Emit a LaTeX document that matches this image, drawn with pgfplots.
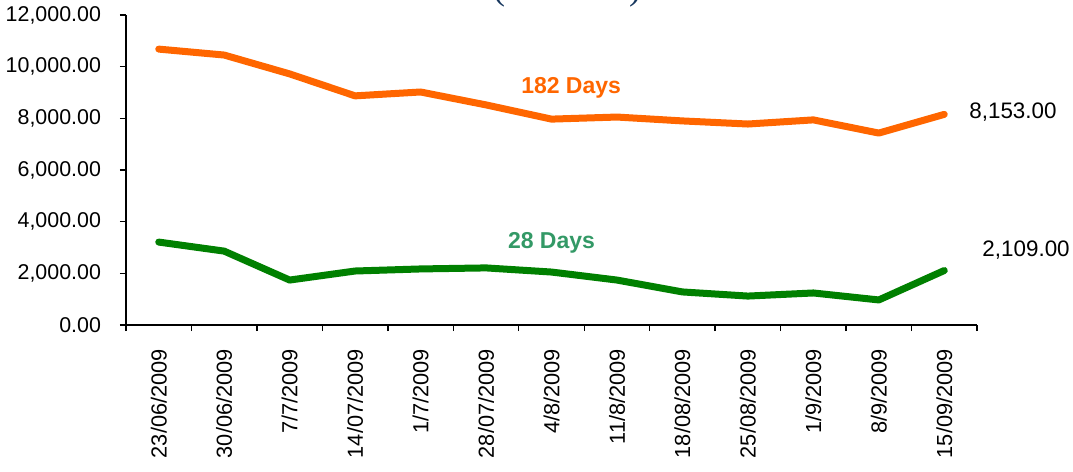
\documentclass[border=0pt]{standalone}
\usepackage{pgfplots}
\pgfplotsset{compat=1.18}
\usepackage{fontspec}
\setmainfont{Liberation Sans}
\newfontfamily\titlefont{Liberation Serif}
\definecolor{lineorange}{RGB}{255,102,0}
\definecolor{linegreen}{RGB}{0,128,0}
\definecolor{labelgreen}{RGB}{51,153,102}
\definecolor{titlenavy}{RGB}{23,55,94}

\pgfplotstableread{
idx t182 t28
0 10680 3210
1 10450 2860
2 9720 1740
3 8870 2090
4 9020 2170
5 8520 2210
6 7970 2050
7 8050 1740
8 7900 1280
9 7780 1120
10 7940 1240
11 7430 970
12 8153 2109
}\rates

\begin{document}
\begin{tikzpicture}
\begin{axis}[
    at={(0,0)}, anchor=south west,
    scale only axis,
    width=425.5pt, height=155pt,
    xmin=-0.5, xmax=12.5,
    ymin=0, ymax=12000,
    axis lines=left,
    axis line style={line width=1pt, -},
    xtick={0,...,12},
    xticklabels={23/06/2009,30/06/2009,7/7/2009,14/07/2009,1/7/2009,28/07/2009,4/8/2009,11/8/2009,18/08/2009,25/08/2009,1/9/2009,8/9/2009,15/09/2009},
    major x tick style={draw=none},
    minor xtick={-0.5,0.5,...,12.5},
    minor x tick style={line width=0.7pt, black},
    minor tick length=3pt,
    xticklabel style={rotate=90, anchor=east, font=\fontsize{10.9}{12}\selectfont, xshift=-5.5pt},
    ytick={0,2000,...,12000},
    scaled y ticks=false,
    major y tick style={line width=0.7pt, black},
    major tick length=3pt,
    tick align=outside,
    yticklabel style={font=\fontsize{10.7}{12}\selectfont, xshift=-6pt},
    /pgf/number format/assume math mode=true,
    y tick label style={/pgf/number format/fixed, /pgf/number format/fixed zerofill, /pgf/number format/precision=2, /pgf/number format/1000 sep={,}},
    clip=false,
]
\addplot[color=lineorange, line width=3.5pt, line join=round, line cap=round] table[x=idx, y=t182] {\rates};
\addplot[color=linegreen, line width=3.5pt, line join=round, line cap=round] table[x=idx, y=t28] {\rates};
\node[font=\fontsize{11.5}{13}\selectfont\bfseries, color=lineorange] at (axis cs:6.3,9170) {182 Days};
\node[font=\fontsize{11.5}{13}\selectfont\bfseries, color=labelgreen] at (axis cs:6.0,3170) {28 Days};
\node[font=\fontsize{11.2}{13}\selectfont] at (axis cs:13.05,8250) {8,153.00};
\node[font=\fontsize{11.2}{13}\selectfont] at (axis cs:13.25,2900) {2,109.00};
\end{axis}
\node[anchor=base, font=\titlefont\fontsize{18}{20}\selectfont, color=titlenavy] at (220.5pt,162.6pt) {(\hspace{62pt})};
\pgfresetboundingbox
\useasboundingbox (-63pt,-73.5pt) rectangle (473.5pt,162.5pt);
\end{tikzpicture}
\end{document}
